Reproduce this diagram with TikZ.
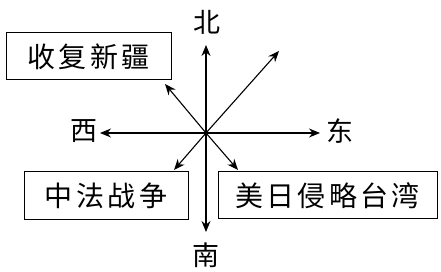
\documentclass[tikz,border=0pt]{standalone}
\usepackage{fontspec}
\newfontfamily\cjk[LetterSpace=12]{Noto Sans CJK SC}
\newfontfamily\cjkd{Noto Sans CJK SC}
\usetikzlibrary{arrows.meta}
\begin{document}
\begin{tikzpicture}[x=1pt,y=1pt,
  box/.style={draw,line width=1pt,inner sep=0pt,font=\cjk\fontsize{28}{30}\selectfont},
  dir/.style={font=\cjkd\fontsize{27}{29}\selectfont,inner sep=0pt},
  arr/.style={line width=1.1pt,-{Stealth[length=11pt,width=9pt]}}]
\useasboundingbox (0,0) rectangle (441,272);
\coordinate (o) at (206,139);
\coordinate (n) at (206,227);
\coordinate (s) at (206,40);
\coordinate (w) at (100,139);
\coordinate (e) at (320,139);
\coordinate (ne) at (279,221);
\coordinate (nw) at (165,188);
\coordinate (sw) at (174,102);
\coordinate (se) at (238,102);
\node[box,minimum width=165pt,minimum height=47pt] (b1) at (88.5,215.5) {收复新疆};
\node[box,minimum width=164pt,minimum height=48pt] (b2) at (106,76) {中法战争};
\node[box,minimum width=219pt,minimum height=47pt] (b3) at (327.5,76.5) {美日侵略台湾};
\node[dir] (ln) at (207,250) {北};
\node[dir] (ls) at (206,17) {南};
\node[dir] (lw) at (84,141) {西};
\node[dir] (le) at (340,141) {东};
\foreach \t in {n,s,w,e,ne,nw,sw,se} \draw[arr] (o) -- (\t);
\end{tikzpicture}
\end{document}
